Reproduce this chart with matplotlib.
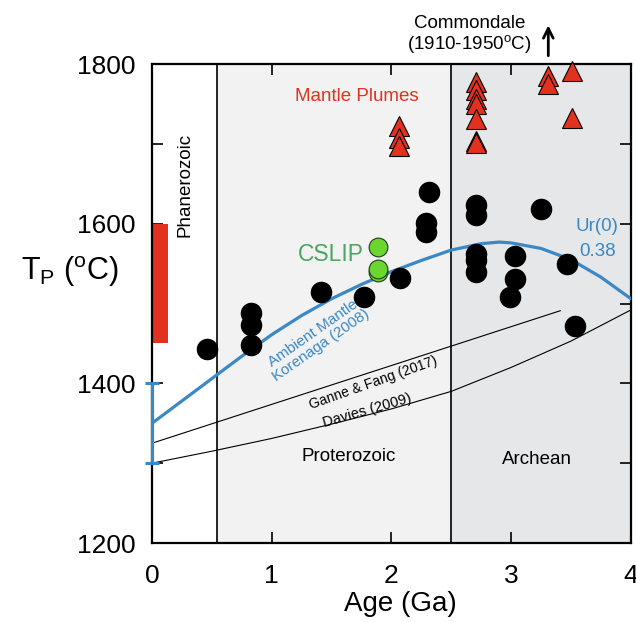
"""Mantle potential temperature vs. age, with plume and ambient-mantle estimates."""

import matplotlib
matplotlib.use("Agg")
import matplotlib.pyplot as plt

plt.rcParams["font.family"] = ["Liberation Sans", "DejaVu Sans"]
plt.rcParams["mathtext.fontset"] = "custom"
plt.rcParams["mathtext.rm"] = "Liberation Sans"

# --- data ------------------------------------------------------------------
# ambient-mantle samples (black circles)
dot_age = [0.46, 0.83, 0.83, 0.83, 1.41, 1.77, 2.07, 2.31, 2.29, 2.29,
           2.71, 2.71, 2.71, 2.71, 2.71, 3.03, 3.03, 2.99, 3.25, 3.47, 3.53]
dot_tp = [1443, 1488, 1473, 1448, 1514, 1508, 1532, 1640, 1601, 1589,
          1624, 1611, 1562, 1554, 1539, 1559, 1531, 1508, 1619, 1549, 1472]

# CSLIP (green circles)
cslip_age = [1.89, 1.89, 1.89]
cslip_tp = [1571, 1540, 1543]

# mantle plumes (red triangles)
plume_age = [2.06, 2.06, 2.06,
             2.71, 2.71, 2.71, 2.71, 2.71, 2.71, 2.71,
             3.31, 3.31, 3.51, 3.51]
plume_tp = [1723, 1707, 1697,
            1777, 1767, 1756, 1750, 1731, 1704, 1701,
            1785, 1775, 1791, 1732]

# Korenaga (2008) ambient mantle curve
kor_age = [0.0, 0.25, 0.5, 0.75, 1.0, 1.25, 1.5, 1.75, 2.0, 2.25,
           2.5, 2.75, 2.9, 3.0, 3.25, 3.5, 3.75, 4.0]
kor_tp = [1350, 1378, 1406, 1434, 1461, 1485, 1506, 1524, 1540, 1554,
          1567, 1575, 1577, 1576, 1569, 1555, 1533, 1506]

# Ganne & Fang (2017)
gf_age = [0.0, 3.41]
gf_tp = [1325, 1491]

# Davies (2009)
dav_age = [0.0, 0.5, 1.0, 1.5, 2.0, 2.5, 3.0, 3.5, 4.0]
dav_tp = [1300, 1315, 1331, 1349, 1368, 1390, 1420, 1453, 1492]

# present-day ranges at 0 Ga
phan_bar = (1450, 1600)          # red bar (bottom, top)
ambient_now = (1300, 1400)       # blue error bar
eon_edges = [0.541, 2.5]

RED = "#e2321f"
BLUE = "#3a88c5"
GREEN = "#6cd630"


def main() -> None:
    fig = plt.figure(figsize=(6.36, 6.22), dpi=100)
    ax = fig.add_axes([0.239, 0.127, 0.753, 0.770])

    ax.axvspan(eon_edges[0], eon_edges[1], color="#f2f2f2", zorder=0)
    ax.axvspan(eon_edges[1], 4, color="#e6e7e8", zorder=0)
    for edge in eon_edges:
        ax.axvline(edge, color="black", lw=1.2, zorder=1)

    ax.bar(0, phan_bar[1] - phan_bar[0], bottom=phan_bar[0], width=0.13,
           align="edge", color=RED, zorder=2)

    ax.plot(dav_age, dav_tp, color="black", lw=0.8, zorder=2)
    ax.plot(gf_age, gf_tp, color="black", lw=0.8, zorder=2)
    ax.plot(kor_age, kor_tp, color=BLUE, lw=2.3, zorder=3)
    mid = (ambient_now[0] + ambient_now[1]) / 2
    ax.errorbar([0], [mid], yerr=[[mid - ambient_now[0]], [ambient_now[1] - mid]],
                color=BLUE, lw=2.3, capsize=5, capthick=2.3, zorder=4,
                clip_on=False)

    ax.plot(dot_age, dot_tp, "o", ms=14.5, color="black", zorder=5)
    ax.plot(cslip_age, cslip_tp, "o", ms=13.5, mfc=GREEN, mec="#1f3d14",
            mew=0.8, zorder=5)
    ax.plot(plume_age, plume_tp, "^", ms=14.5, mfc=RED, mec="black",
            mew=0.8, zorder=5, clip_on=False)

    ax.text(0.275, 1648, "Phanerozoic", rotation=90, ha="center", va="center",
            fontsize=13.5)
    ax.text(1.64, 1308, "Proterozoic", ha="center", va="center", fontsize=13.5)
    ax.text(3.215, 1304, "Archean", ha="center", va="center", fontsize=13.5)
    ax.text(1.71, 1759, "Mantle Plumes", color=RED, ha="center", va="center",
            fontsize=13.5)
    ax.text(1.49, 1562, "CSLIP", color="#4aa562", ha="center", va="center",
            fontsize=16.5)
    ax.text(3.72, 1596, "Ur(0)", color=BLUE, ha="center", va="center",
            fontsize=13.5)
    ax.text(3.72, 1565, "0.38", color=BLUE, ha="center", va="center",
            fontsize=13.5)
    ax.text(1.38, 1455, "Ambient Mantle\nKorenaga (2008)", color=BLUE,
            rotation=35, rotation_mode="anchor", ha="center", va="center",
            fontsize=11, linespacing=1.0)
    ax.text(1.85, 1400, "Ganne & Fang (2017)", rotation=19.5,
            rotation_mode="anchor", ha="center", va="center", fontsize=10)
    ax.text(1.80, 1366, "Davies (2009)", rotation=16, rotation_mode="anchor",
            ha="center", va="center", fontsize=10.5)

    ax.text(2.65, 1836, "Commondale\n(1910-1950$^\\mathregular{o}$C)",
            ha="center", va="center", fontsize=13.5, linespacing=1.05,
            clip_on=False)
    ax.annotate("", xy=(3.31, 1852), xytext=(3.31, 1807),
                arrowprops=dict(arrowstyle="->,head_width=0.35,head_length=0.7",
                                lw=2, color="black"),
                annotation_clip=False)

    ax.set_xlim(0, 4)
    ax.set_ylim(1200, 1800)
    ax.set_xticks([0, 1, 2, 3, 4])
    ax.set_yticks(range(1200, 1801, 100))
    ax.set_yticklabels([str(v) if v % 200 == 0 else "" for v in range(1200, 1801, 100)])
    ax.tick_params(direction="in", length=8, width=1.2, labelsize=19,
                   top=True, right=True)
    ax.tick_params(axis="x", pad=15)
    ax.tick_params(axis="y", pad=12)
    for spine in ax.spines.values():
        spine.set_linewidth(1.6)

    ax.set_xlabel("Age (Ga)", fontsize=20)
    ax.xaxis.set_label_coords(0.518, -0.100)
    ax.set_ylabel("T$_\\mathregular{P}$ ($^\\mathregular{o}$C)", fontsize=22,
                  rotation=0, ha="center", va="center")
    ax.yaxis.set_label_coords(-0.171, 0.566)

    fig.savefig("out.png", dpi=100)


if __name__ == "__main__":
    main()
